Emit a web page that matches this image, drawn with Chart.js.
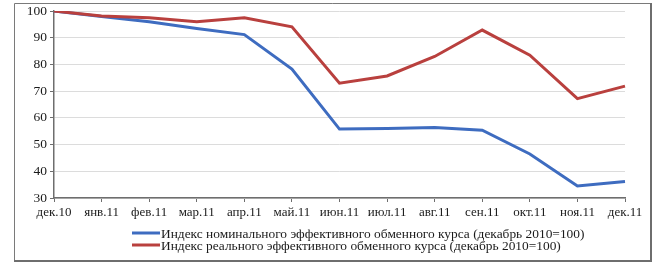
<!DOCTYPE html>
<html>
<head>
<meta charset="utf-8">
<script src="https://cdn.jsdelivr.net/npm/chart.js@4"></script>
<style>
html,body{margin:0;padding:0;background:#fff;}
#wrap{position:relative;width:667px;height:275px;}
canvas{position:absolute;left:0;top:0;}
</style>
</head>
<body>
<div id="wrap"><canvas id="c" width="667" height="275"></canvas></div>
<script>
const categories = ['дек.10','янв.11','фев.11','мар.11','апр.11','май.11','июн.11','июл.11','авг.11','сен.11','окт.11','ноя.11','дек.11'];
const nominalIndex = [100, 98, 96, 93.5, 91.2, 78.3, 55.8, 56.0, 56.4, 55.4, 46.5, 34.5, 36.2];
const realIndex = [100, 98.2, 97.5, 96, 97.5, 94.1, 73, 75.7, 83, 92.9, 83.5, 67.2, 71.9];
const nominalLabel = 'Индекс номинального эффективного обменного курса (декабрь 2010=100)';
const realLabel = 'Индекс реального эффективного обменного курса (декабрь 2010=100)';
const yTicks = [30, 40, 50, 60, 70, 80, 90, 100];

const FONT = '"Liberation Serif", "Times New Roman", serif';

const framePlugin = {
  id: 'frame',
  beforeDraw(chart) {
    const ctx = chart.ctx;
    ctx.save();
    ctx.fillStyle = '#ffffff';
    ctx.fillRect(0, 0, chart.width, chart.height);
    ctx.strokeStyle = '#7a7a7a';
    ctx.lineWidth = 1;
    ctx.beginPath();
    ctx.moveTo(14.5, 261);
    ctx.lineTo(14.5, 3.5);
    ctx.lineTo(651, 3.5);
    ctx.stroke();
    ctx.lineWidth = 2;
    ctx.strokeStyle = '#6e6e6e';
    ctx.beginPath();
    ctx.moveTo(651, 3);
    ctx.lineTo(651, 261);
    ctx.lineTo(14, 261);
    ctx.stroke();
    ctx.restore();
  }
};

const legendPlugin = {
  id: 'customLegend',
  afterDraw(chart) {
    const ctx = chart.ctx;
    ctx.save();
    ctx.font = '13.4px ' + FONT;
    ctx.textBaseline = 'middle';
    ctx.textAlign = 'left';
    const rows = [233, 245];
    chart.data.datasets.forEach((ds, i) => {
      const y = rows[i];
      ctx.strokeStyle = ds.borderColor;
      ctx.lineWidth = 3;
      ctx.beginPath();
      ctx.moveTo(132, y);
      ctx.lineTo(160, y);
      ctx.stroke();
      ctx.fillStyle = '#1a1a1a';
      ctx.fillText(ds.label, 161, y + 1);
    });
    ctx.restore();
  }
};

new Chart(document.getElementById('c'), {
  type: 'line',
  data: {
    labels: categories,
    datasets: [
      { label: nominalLabel, data: nominalIndex, borderColor: '#3e6cc0', borderWidth: 3, pointRadius: 0, tension: 0, fill: false, order: 1 },
      { label: realLabel, data: realIndex, borderColor: '#b9403e', borderWidth: 3, pointRadius: 0, tension: 0, fill: false, order: 0 }
    ]
  },
  options: {
    responsive: false,
    animation: false,
    devicePixelRatio: 1,
    layout: { padding: { left: 0, right: 42, top: 11, bottom: 0 } },
    plugins: { legend: { display: false }, tooltip: { enabled: false } },
    scales: {
      x: {
        offset: false,
        afterFit(scale) { scale.height = 77; },
        grid: { display: true, drawOnChartArea: false, drawTicks: true, tickLength: 4, tickColor: '#6e6e6e' },
        border: { display: true, color: '#6e6e6e', width: 1.5 },
        ticks: { color: '#1a1a1a', font: { family: FONT, size: 13 }, padding: 3, maxRotation: 0, autoSkip: false }
      },
      y: {
        min: 30, max: 100,
        afterFit(scale) { scale.width = 54; },
        afterBuildTicks(scale) { scale.ticks = yTicks.map(v => ({ value: v })); },
        grid: { color: '#dcdcdc', lineWidth: 1, drawTicks: true, tickLength: 4, tickColor: '#6e6e6e' },
        border: { display: true, color: '#6e6e6e', width: 1.5 },
        ticks: { color: '#1a1a1a', font: { family: FONT, size: 13.5 }, padding: 3 }
      }
    }
  },
  plugins: [framePlugin, legendPlugin]
});
</script>
</body>
</html>
